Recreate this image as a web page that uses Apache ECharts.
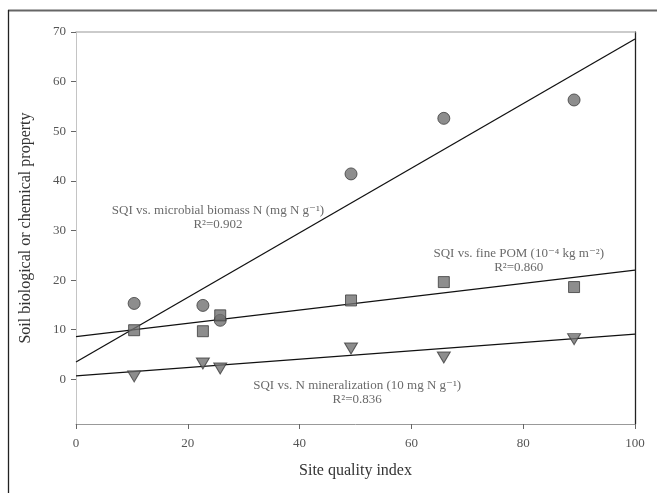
<!DOCTYPE html>
<html>
<head>
<meta charset="utf-8">
<script src="https://cdn.jsdelivr.net/npm/echarts@6/dist/echarts.min.js"></script>
<style>
html,body{margin:0;padding:0;background:#fff;}
#c{width:657px;height:493px;}
</style>
</head>
<body>
<div id="c"></div>
<script>
// Site quality index (x) for each site
const sqi = [10.4, 22.7, 25.8, 49.2, 65.8, 89.1];
// Series values
const biomassN = [15.3, 14.9, 11.9, 41.4, 52.6, 56.3];
const finePOM = [9.9, 9.7, 12.9, 15.9, 19.6, 18.6];
const nMineral = [0.6, 3.2, 2.2, 6.2, 4.4, 8.1];
// Regression lines (x range, fitted y at ends)
const fitX = [0, 100];
const biomassFit = [3.5, 68.6];
const pomFit = [8.6, 22.0];
const nminFit = [0.7, 9.1];
// Tick labels
const xTicks = [0, 20, 40, 60, 80, 100];
const yTicks = [0, 10, 20, 30, 40, 50, 60, 70];
// Annotations: [x, y, text]
const annBiomass = [25.4, 32.5, 'SQI vs. microbial biomass N (mg N g⁻¹)\nR²=0.902'];
const annPOM = [79.2, 24.0, 'SQI vs. fine POM (10⁻⁴ kg m⁻²)\nR²=0.860'];
const annNmin = [50.3, -2.6, 'SQI vs. N mineralization (10 mg N g⁻¹)\nR²=0.836'];

const pts = (xs, ys) => xs.map((x, i) => [x, ys[i]]);
const serif = '"Liberation Serif", "DejaVu Serif", serif';
const markerStyle = { color: '#707070', borderColor: '#3c3c3c', borderWidth: 1 };
const lineStyle = { color: '#111', width: 1.3 };

const chart = echarts.init(document.getElementById('c'), null, { renderer: 'canvas' });
chart.setOption({
  backgroundColor: '#fff',
  animation: false,
  grid: { left: 76, right: 22, top: 32, bottom: 69 },
  xAxis: [{
    type: 'value', min: 0, max: 100, position: 'bottom',
    name: 'Site quality index', nameLocation: 'middle', nameGap: 39,
    nameTextStyle: { fontFamily: serif, fontSize: 16, color: '#333' },
    axisLine: { show: true, onZero: false, lineStyle: { color: '#999', width: 1 } },
    axisTick: { show: true, length: 5, lineStyle: { color: '#666' }, customValues: xTicks },
    axisLabel: { fontFamily: serif, fontSize: 13, color: '#555', margin: 13, customValues: xTicks },
    splitLine: { show: false }
  }, {
    type: 'value', min: 0, max: 100, position: 'top',
    axisLine: { show: true, onZero: false, lineStyle: { color: '#bbb', width: 1.5 } },
    axisTick: { show: false }, axisLabel: { show: false }, splitLine: { show: false }
  }],
  yAxis: [{
    type: 'value', min: -9, max: 70, position: 'left',
    name: 'Soil biological or chemical property', nameLocation: 'middle', nameGap: 42,
    nameTextStyle: { fontFamily: serif, fontSize: 16, color: '#333' },
    axisLine: { show: true, onZero: false, lineStyle: { color: '#c4c4c4', width: 1 } },
    axisTick: { show: true, length: 5, lineStyle: { color: '#666' }, customValues: yTicks },
    axisLabel: { fontFamily: serif, fontSize: 13, color: '#555', margin: 10, customValues: yTicks },
    splitLine: { show: false }
  }, {
    type: 'value', min: -9, max: 70, position: 'right',
    axisLine: { show: true, onZero: false, lineStyle: { color: '#222', width: 1.3 } },
    axisTick: { show: false }, axisLabel: { show: false }, splitLine: { show: false }
  }],
  series: [
    { type: 'line', data: pts(fitX, biomassFit), symbol: 'none', lineStyle: lineStyle, z: 2 },
    { type: 'line', data: pts(fitX, pomFit), symbol: 'none', lineStyle: lineStyle, z: 2 },
    { type: 'line', data: pts(fitX, nminFit), symbol: 'none', lineStyle: lineStyle, z: 2 },
    { type: 'scatter', name: 'Microbial biomass N', data: pts(sqi, biomassN), symbol: 'circle', symbolSize: 12, itemStyle: markerStyle, z: 3 },
    { type: 'scatter', name: 'Fine POM', data: pts(sqi, finePOM), symbol: 'rect', symbolSize: 11, itemStyle: markerStyle, z: 3 },
    { type: 'scatter', name: 'N mineralization', data: pts(sqi, nMineral), symbol: 'triangle', symbolRotate: 180, symbolSize: [13, 11], itemStyle: markerStyle, z: 3 },
    {
      type: 'scatter', symbolSize: 0, silent: true, z: 4,
      data: [annBiomass, annPOM, annNmin].map(a => ({ value: [a[0], a[1]], text: a[2] })),
      label: {
        show: true, position: 'inside', align: 'center', verticalAlign: 'middle',
        fontFamily: serif, fontSize: 13, lineHeight: 14, color: '#444',
        formatter: p => p.data.text
      }
    }
  ],
  graphic: [
    { type: 'line', shape: { x1: 8, y1: 10.5, x2: 657, y2: 10.5 }, style: { stroke: '#666', lineWidth: 2 } },
    { type: 'line', shape: { x1: 8.5, y1: 10, x2: 8.5, y2: 493 }, style: { stroke: '#222', lineWidth: 1.3 } }
  ]
});
</script>
</body>
</html>
